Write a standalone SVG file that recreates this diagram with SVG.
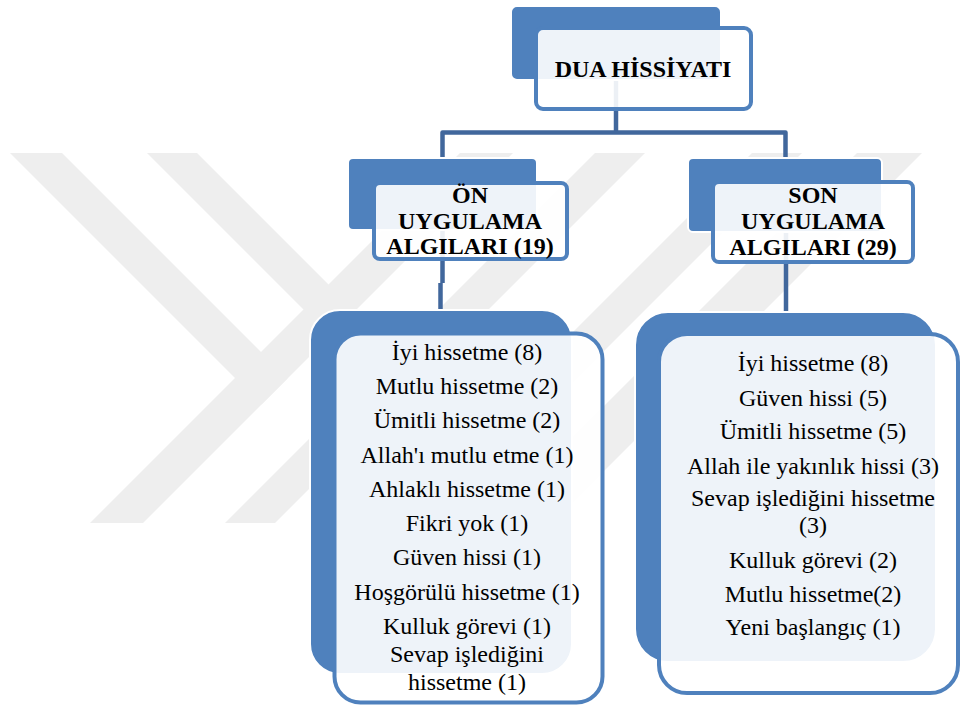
<svg xmlns="http://www.w3.org/2000/svg" width="961" height="708" viewBox="0 0 961 708">
<style>
.wm{fill:#eeeeee}
.back{fill:#4f81bd;stroke:#ffffff;stroke-width:2}
.front{fill:#ffffff;fill-opacity:0.9;stroke:#4f81bd;stroke-width:4}
.conn{fill:none;stroke:#41679c;stroke-width:4.5;stroke-linejoin:round}
.hd{font-family:"Liberation Serif","Times New Roman",serif;font-weight:bold;font-size:24px;fill:#000;text-anchor:middle}
.it{font-family:"Liberation Serif","Times New Roman",serif;font-size:24px;fill:#000;text-anchor:middle}
</style>
<rect width="961" height="708" fill="#ffffff"/>
<g id="watermark">
<polygon class="wm" points="10,153 62,153 287.5,378.5 261.5,404.5"/>
<polygon class="wm" points="460,153 513,153 143,523 90,523"/>
<polygon class="wm" points="147,153 197,153 421,377 396,402"/>
<polygon class="wm" points="595,153 645,153 275,523 225,523"/>
<polygon class="wm" points="752,153 802,153 432,523 382,523"/>
<polygon class="wm" points="857,153 922,153 552,523 487,523"/>
</g>
<g id="connectors">
<path class="conn" d="M616,80 V132.5"/>
<path class="conn" d="M442.5,158 V132.5 H785.5 V158"/>
<path class="conn" d="M442.5,230 V283 M440.5,283 V310"/>
<path class="conn" d="M786,232 V312"/>
</g>
<g id="node-root">
<rect class="back" x="511" y="6" width="210" height="74" rx="6"/>
<rect class="front" x="536" y="28" width="215" height="81" rx="7"/>
<text class="hd" x="643" y="77">DUA HİSSİYATI</text>
</g>
<g id="node-on">
<rect class="back" x="348" y="158" width="189" height="72" rx="5"/>
<rect class="front" x="374" y="183" width="193" height="76" rx="6"/>
<text class="hd" x="470" y="203">ÖN</text>
<text class="hd" x="470" y="228.5">UYGULAMA</text>
<text class="hd" x="470" y="254">ALGILARI (19)</text>
</g>
<g id="node-son">
<rect class="back" x="688" y="158" width="194" height="74" rx="5"/>
<rect class="front" x="713" y="182" width="200" height="80" rx="6"/>
<text class="hd" x="813" y="203">SON</text>
<text class="hd" x="813" y="229">UYGULAMA</text>
<text class="hd" x="813" y="254.5">ALGILARI (29)</text>
</g>
<g id="node-on-list">
<rect class="back" x="310" y="310" width="262" height="364" rx="30"/>
<rect class="front" x="334.5" y="333.5" width="268" height="369" rx="26"/>
<text class="it" x="467" y="360">İyi hissetme (8)</text>
<text class="it" x="467" y="394">Mutlu hissetme (2)</text>
<text class="it" x="467" y="428">Ümitli hissetme (2)</text>
<text class="it" x="467" y="463">Allah'ı mutlu etme (1)</text>
<text class="it" x="467" y="497">Ahlaklı hissetme (1)</text>
<text class="it" x="467" y="531">Fikri yok (1)</text>
<text class="it" x="467" y="565">Güven hissi (1)</text>
<text class="it" x="467" y="599.5">Hoşgörülü hissetme (1)</text>
<text class="it" x="467" y="634">Kulluk görevi (1)</text>
<text class="it" x="467" y="662">Sevap işlediğini</text>
<text class="it" x="467" y="690">hissetme (1)</text>
</g>
<g id="node-son-list">
<rect class="back" x="635" y="312" width="301" height="350" rx="33"/>
<rect class="front" x="659" y="334" width="299" height="359" rx="28"/>
<text class="it" x="813" y="370.5">İyi hissetme (8)</text>
<text class="it" x="813" y="405.5">Güven hissi (5)</text>
<text class="it" x="813" y="439">Ümitli hissetme (5)</text>
<text class="it" x="813" y="474">Allah ile yakınlık hissi (3)</text>
<text class="it" x="813" y="506">Sevap işlediğini hissetme</text>
<text class="it" x="813" y="533">(3)</text>
<text class="it" x="813" y="567.5">Kulluk görevi (2)</text>
<text class="it" x="813" y="601.5">Mutlu hissetme(2)</text>
<text class="it" x="813" y="635">Yeni başlangıç (1)</text>
</g>
</svg>
